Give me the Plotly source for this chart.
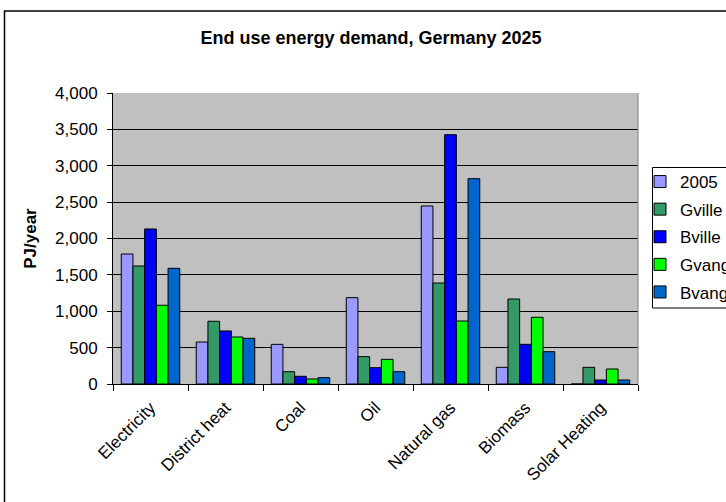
import plotly.graph_objects as go

categories = ["Electricity", "District heat", "Coal", "Oil", "Natural gas", "Biomass", "Solar Heating"]
series_names = ["2005", "Gville", "Bville", "Gvang", "Bvang"]
v2005 = [1787, 577, 545, 1187, 2447, 229, 0]
gville = [1622, 862, 169, 376, 1388, 1168, 229]
bville = [2131, 729, 106, 224, 3427, 545, 55]
gvang = [1082, 646, 69, 339, 866, 917, 206]
bvang = [1590, 628, 87, 169, 2822, 444, 55]
colors = ["#9999FF", "#339966", "#0000FF", "#00FF00", "#0066CC"]
y_ticks = [0, 500, 1000, 1500, 2000, 2500, 3000, 3500, 4000]

FONT = "Arial, Liberation Sans, sans-serif"

# plot area geometry (pixels)
L, T, W, H = 113, 93, 525, 291

def px(x):
    return (x - L) / W

def py(y):
    return (T + H - y) / H

fig = go.Figure()
for name, vals, col in zip(series_names, [v2005, gville, bville, gvang, bvang], colors):
    fig.add_trace(go.Bar(
        name=name, x=categories, y=vals, legendgroup=name,
        marker=dict(color=col, line=dict(color="#000000", width=1)),
    ))

fig.update_layout(
    width=726, height=502,
    margin=dict(l=L, r=726 - L - W, t=T, b=502 - T - H, autoexpand=False),
    paper_bgcolor="white", plot_bgcolor="#C0C0C0",
    font=dict(family=FONT, color="black", size=17),
    barmode="group", bargap=0.22, bargroupgap=0,
    title=dict(text="<b>End use energy demand, Germany 2025</b>",
               x=371 / 726, xanchor="center", y=1 - 38 / 502, yanchor="middle",
               font=dict(size=18, family=FONT, color="black")),
    legend=dict(x=px(640), xanchor="left", y=py(164), yanchor="top",
                bgcolor="rgba(0,0,0,0)", borderwidth=0,
                font=dict(size=17, family=FONT), traceorder="grouped",
                tracegroupgap=2.5),
    showlegend=True,
)
fig.update_xaxes(
    showline=True, linecolor="black", linewidth=1,
    ticks="outside", ticklen=6, tickcolor="black", tickson="boundaries",
    tickangle=-45, tickfont=dict(size=17, family=FONT), ticklabelstandoff=6,
    showgrid=False,
)
fig.update_yaxes(
    range=[0, 4000], tickvals=y_ticks, tickformat=",",
    showline=True, linecolor="black", linewidth=1,
    ticks="outside", ticklen=5, tickcolor="black", ticklabelstandoff=6,
    showgrid=True, gridcolor="black", gridwidth=1,
    tickfont=dict(size=17, family=FONT),
    title=dict(text="<b>PJ/year</b>", font=dict(size=17, family=FONT), standoff=14),
    zeroline=False,
)
# right edge of plot area
fig.add_shape(type="line", xref="paper", yref="paper", x0=1, x1=1, y0=0, y1=1,
              line=dict(color="#808080", width=1))
# legend box
fig.add_shape(type="rect", xref="paper", yref="paper",
              x0=px(652.5), x1=px(745), y0=py(308), y1=py(167.5),
              fillcolor="white", line=dict(color="black", width=1), layer="above")
# outer chart frame
fig.add_shape(type="rect", xref="paper", yref="paper",
              x0=px(4.5), x1=px(745), y0=py(520), y1=py(11),
              line=dict(color="black", width=1.5), layer="below")

fig.write_html("out.html")
